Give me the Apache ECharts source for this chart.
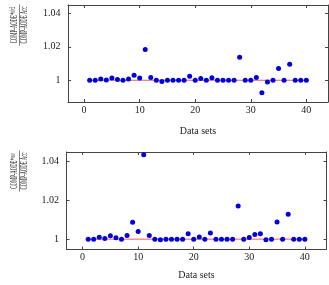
<!DOCTYPE html>
<html>
<head>
<meta charset="utf-8">
<script src="https://cdn.jsdelivr.net/npm/echarts@6/dist/echarts.min.js"></script>
<style>
  html, body { margin: 0; padding: 0; background: #fff; }
  #chart { width: 329px; height: 285px; }
</style>
</head>
<body>
<div id="chart"></div>
<script>
const dataSets = [1, 2, 3, 4, 5, 6, 7, 8, 9, 10, 11, 12, 13, 14, 15, 16, 17, 18, 19, 20,
  21, 22, 23, 24, 25, 26, 27, 28, 29, 30, 31, 32, 33, 34, 35, 36, 37, 38, 39, 40];

const ratioUc2 = [1.0, 1.0, 1.0008, 1.0001, 1.0014, 1.0004, 1.0, 1.0008, 1.003, 1.0014,
  1.0184, 1.0016, 1.0, 0.9993, 1.0, 1.0, 1.0, 1.0, 1.0024, 1.0,
  1.0011, 1.0, 1.0015, 1.0, 1.0, 1.0, 1.0, 1.0137, 1.0, 1.0,
  1.0016, 0.9925, 0.999, 1.0, 1.0071, 1.0, 1.0096, 1.0, 1.0, 1.0];

const ratioUso = [1.0, 1.0, 1.001, 1.0003, 1.0017, 1.0007, 1.0, 1.0019, 1.0086, 1.0039,
  1.0432, 1.0019, 1.0, 0.9997, 1.0, 1.0, 1.0, 1.0, 1.0027, 1.0,
  1.0011, 1.0, 1.0032, 1.0, 1.0, 1.0, 1.0, 1.017, 1.0, 1.0008,
  1.0024, 1.0027, 0.9997, 1.0, 1.0088, 1.0, 1.0127, 1.0, 1.0, 1.0];

const xTicks = [0, 10, 20, 30, 40];
const yTicks = [1, 1.02, 1.04];
const refLine = [[1, 1], [40, 1]];

const FONT = "Liberation Serif";
const TXT = "#222";
const FRAME = "#444";

const chart = echarts.init(document.getElementById("chart"));

const pts = (vals) => dataSets.map((x, i) => [x, vals[i]]);

const xAx = (grid, pos, showLabel, nameGap) => ({
  type: "value",
  gridIndex: grid,
  position: pos,
  min: -2.9,
  max: 43.9,
  name: showLabel ? "Data sets" : "",
  nameLocation: "middle",
  nameGap: nameGap,
  nameTextStyle: { fontFamily: FONT, fontSize: 10, color: TXT },
  axisLine: { show: true, onZero: false, lineStyle: { color: FRAME, width: 1 } },
  axisTick: { show: true, inside: true, length: 3, customValues: xTicks, lineStyle: { color: FRAME } },
  axisLabel: { show: showLabel, customValues: xTicks, margin: 3, fontFamily: FONT, fontSize: 10, color: TXT },
  splitLine: { show: false },
});

const yAx = (grid, pos, showLabel, min, max) => ({
  type: "value",
  gridIndex: grid,
  position: pos,
  min: min,
  max: max,
  axisLine: { show: true, onZero: false, lineStyle: { color: FRAME, width: 1 } },
  axisTick: { show: true, inside: true, length: 3, customValues: yTicks, lineStyle: { color: FRAME } },
  axisLabel: {
    show: showLabel,
    customValues: yTicks,
    margin: 7.5,
    fontFamily: FONT,
    fontSize: 10,
    color: TXT,
    formatter: (v) => (Math.abs(v - 1) < 1e-9 ? "1" : v.toFixed(2)),
  },
  splitLine: { show: false },
});

// squeezed, rotated fraction used as the y-axis title
const fracLabel = (cx, cy, sub) => ({
  type: "group",
  x: cx,
  y: cy,
  rotation: Math.PI / 2,
  scaleX: 0.43,
  children: [
    {
      type: "text",
      x: 0,
      y: -5,
      style: {
        text: "{a|COMP-AODE*}{s|" + sub + "}",
        align: "center",
        verticalAlign: "middle",
        fill: TXT,
        rich: {
          a: { fontFamily: FONT, fontSize: 11, fill: TXT },
          s: { fontFamily: FONT, fontSize: 8, fill: TXT, padding: [0, 0, 3, 0] },
        },
      },
    },
    {
      type: "line",
      shape: { x1: -48, y1: 0, x2: 48, y2: 0 },
      style: { stroke: TXT, lineWidth: 0.8 },
    },
    {
      type: "text",
      x: 0,
      y: 5,
      style: {
        text: "COMP-AODE Acc",
        align: "center",
        verticalAlign: "middle",
        fill: TXT,
        fontFamily: FONT,
        fontSize: 11,
      },
    },
  ],
});

const option = {
  animation: false,
  backgroundColor: "#fff",
  grid: [
    { left: 68, right: 1, top: 5, height: 97 },
    { left: 66.5, right: 2.5, top: 152, height: 97.5 },
  ],
  xAxis: [
    xAx(0, "bottom", true, 24),
    xAx(0, "top", false, 0),
    xAx(1, "bottom", true, 21),
    xAx(1, "top", false, 0),
  ],
  yAxis: [
    yAx(0, "left", true, 0.987, 1.045),
    yAx(0, "right", false, 0.987, 1.045),
    yAx(1, "left", true, 0.9947, 1.0446),
    yAx(1, "right", false, 0.9947, 1.0446),
  ],
  graphic: [fracLabel(19.5, 25, "u/c2"), fracLabel(19.5, 171, "uso")],
  series: [
    {
      type: "line",
      xAxisIndex: 0,
      yAxisIndex: 0,
      data: refLine,
      symbol: "none",
      lineStyle: { color: "#f05a5a", width: 1 },
      z: 1,
    },
    {
      type: "scatter",
      xAxisIndex: 0,
      yAxisIndex: 0,
      data: pts(ratioUc2),
      symbolSize: 5,
      itemStyle: { color: "#0000dd", opacity: 1 },
      z: 2,
    },
    {
      type: "line",
      xAxisIndex: 2,
      yAxisIndex: 2,
      data: refLine,
      symbol: "none",
      lineStyle: { color: "#f05a5a", width: 1 },
      z: 1,
    },
    {
      type: "scatter",
      xAxisIndex: 2,
      yAxisIndex: 2,
      data: pts(ratioUso),
      symbolSize: 5,
      itemStyle: { color: "#0000dd", opacity: 1 },
      z: 2,
    },
  ],
};

chart.setOption(option);
</script>
</body>
</html>
